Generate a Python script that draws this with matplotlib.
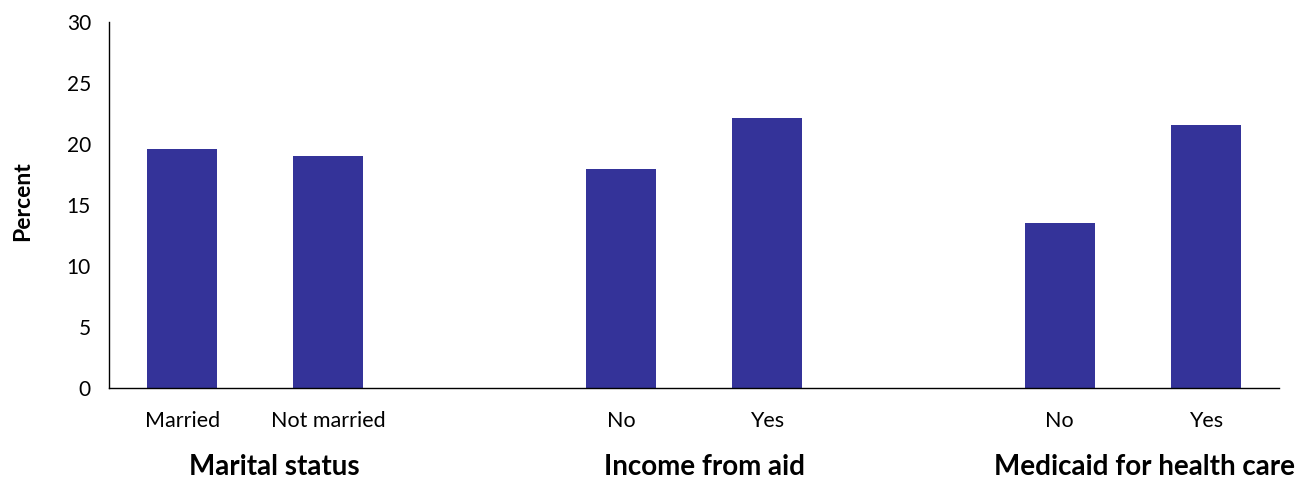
import matplotlib
matplotlib.use("Agg")
import matplotlib.pyplot as plt
import matplotlib.transforms as mtransforms

categories = ["Married", "Not married", "No", "Yes", "No", "Yes"]
values = [19.6, 19.0, 18.0, 22.1, 13.5, 21.6]
groups = ["Marital status", "Income from aid", "Medicaid for health care"]
group_members = [[0, 1], [2, 3], [4, 5]]
yticks = [0, 5, 10, 15, 20, 25, 30]

positions = [0, 1, 3, 4, 6, 7]
color = "#343399"

plt.rcParams['font.family'] = ['Lato', 'DejaVu Sans']

fig = plt.figure(figsize=(13.16, 4.83), dpi=100)
ax = fig.add_axes([0.0828, 0.196, 0.8891, 0.7585])

ax.bar(positions, values, width=0.48, color=color, zorder=2)

ax.set_xlim(-0.5, 7.5)
ax.set_ylim(0, 30)
ax.set_yticks(yticks)
ax.set_yticklabels([str(t) for t in yticks], fontsize=15)
ax.set_xticks(positions)
ax.set_xticklabels(categories, fontsize=15.5)
ax.tick_params(axis='y', length=0, pad=13)
ax.tick_params(axis='x', length=0, pad=16)

for s in ["top", "right"]:
    ax.spines[s].set_visible(False)
ax.spines["left"].set_linewidth(1.0)
ax.spines["bottom"].set_linewidth(1.0)

ax.set_ylabel("Percent", fontsize=16.5, fontweight='bold', va='center')
ax.yaxis.set_label_coords(-0.0735, 0.51)

offsets = [0.13, 0.07, 0.08]
trans = mtransforms.blended_transform_factory(ax.transData, ax.transAxes)
for name, members, off in zip(groups, group_members, offsets):
    cx = sum(positions[i] for i in members) / len(members) + off
    ax.text(cx, -0.215, name, transform=trans, ha='center', va='center',
            fontsize=20, fontweight='bold')

fig.savefig("out.png", dpi=100)
